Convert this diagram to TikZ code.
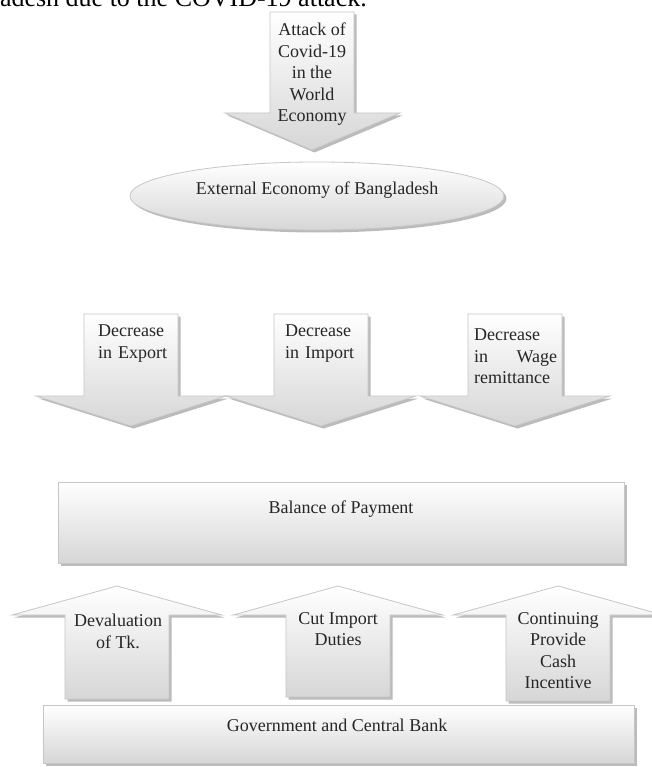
\documentclass[tikz,border=0pt]{standalone}
\usepackage{fontspec}
\setmainfont{Liberation Serif}
\usetikzlibrary{shapes.geometric,shadows}
\tikzset{
  shp/.style={draw=gray!45, line width=0.8pt, top color=white, bottom color=gray!32,
    drop shadow={shadow xshift=2.5pt, shadow yshift=-2.5pt, fill=gray!75, opacity=0.7}},
  lbl/.style={font=\fontsize{18}{21.5}\selectfont, inner sep=0pt, text=black!85},
  boxnode/.style={shp, rectangle, inner sep=0pt},
}
\newcommand{\DownArr}[1]{%
  \path[shp] (#1-47,314) -- (#1+47,314) -- (#1+47,396) -- (#1+95,396) -- (#1,426)
    -- (#1-95,396) -- (#1-47,396) -- cycle;}
\newcommand{\UpArr}[2]{%
  \path[shp] (#1,586) -- (#1+105,615) -- (#1+52,615) -- (#1+52,#2) -- (#1-52,#2)
    -- (#1-52,615) -- (#1-105,615) -- cycle;}
\begin{document}
\begin{tikzpicture}[x=1pt,y=-1pt]
\clip (0,0) rectangle (652,767);
\fill[white] (0,0) rectangle (652,767);

% caption line cut at the top
\node[anchor=base east, inner sep=0pt, font=\fontsize{26}{30}\selectfont] (caption) at (367,7) {adesh due to the COVID-19 attack.};

% top arrow
\path[shp] (270,12) -- (354,12) -- (354,113) -- (400,113) -- (312,150) -- (225,113) -- (270,113) -- cycle;
\node[lbl, align=center] (attack) at (312,74.5) {Attack of\\Covid-19\\in the\\World\\Economy};

% ellipse
\node[shp, ellipse, minimum width=374pt, minimum height=68pt, inner sep=0pt] (extshape) at (317,196) {};
\node[lbl] (exttext) at (317,190) {External Economy of Bangladesh};

% three down arrows
\DownArr{131}
\DownArr{321}
\DownArr{515}
\node[lbl, anchor=west, text width=70pt, align=left] (export) at (98,343.5) {Decrease\\in Export};
\node[lbl, anchor=west, text width=70pt, align=left] (import) at (285,343.5) {Decrease\\in Import};
\node[lbl, anchor=west, text width=83pt, align=left] (wage) at (474,356.5) {Decrease\\in\hfill Wage\\remittance};

% balance of payment
\node[boxnode, minimum width=566pt, minimum height=81pt] (bopbox) at (341,522.5) {};
\node[lbl] (boptext) at (341,509) {Balance of Payment};

% three up arrows
\UpArr{117}{699}
\UpArr{338}{697}
\UpArr{558}{701}
\node[lbl, align=center] (deval) at (118,631.5) {Devaluation\\of Tk.};
\node[lbl, align=center] (duties) at (338,629) {Cut Import\\Duties};
\node[lbl, align=center] (cash) at (558,650.5) {Continuing\\Provide\\Cash\\Incentive};

% government box
\node[boxnode, minimum width=591pt, minimum height=58pt] (govbox) at (338.5,734) {};
\node[lbl] (govtext) at (337,725) {Government and Central Bank};
\end{tikzpicture}
\end{document}
